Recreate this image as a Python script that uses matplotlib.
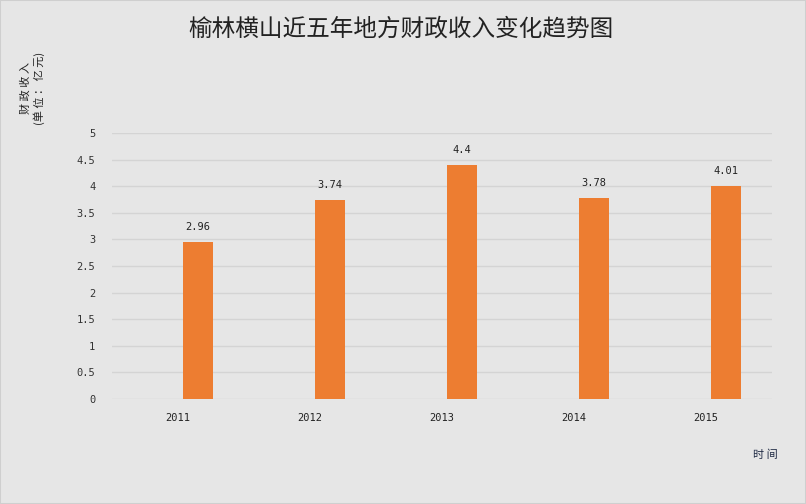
import matplotlib
matplotlib.use("Agg")
import matplotlib.pyplot as plt
from matplotlib.patches import Rectangle

plt.rcParams['font.family'] = ['Noto Sans CJK SC', 'DejaVu Sans']

years = ["2011", "2012", "2013", "2014", "2015"]
revenue = [2.96, 3.74, 4.4, 3.78, 4.01]
yticks = [0, 0.5, 1, 1.5, 2, 2.5, 3, 3.5, 4, 4.5, 5]
title = "榆林横山近五年地方财政收入变化趋势图"
ylabel = "财 政 收 入\n(单 位 ： 亿 元)"
xlabel = "时 间"

W, H = 806, 504
fig = plt.figure(figsize=(W / 100, H / 100), dpi=100)
bg = "#e6e6e6"
fig.patch.set_facecolor(bg)
fig.patches.append(Rectangle((0, 0), 1, 1, transform=fig.transFigure,
                             fill=False, edgecolor="#cfcfcf", linewidth=1.5))

ax = fig.add_axes([112 / W, 105 / H, 660 / W, 266 / H])
ax.set_facecolor(bg)
x = list(range(len(years)))
offset = 20 / 132
width = 30 / 132
xs = [i + offset for i in x]
bars = ax.bar(xs, revenue, width=width, color="#ED7D31", zorder=3)
for xi, v in zip(xs, revenue):
    ax.text(xi, v + 0.18, f"{v:g}", ha="center", va="bottom", fontsize=7.5,
            color="#222222", family=["DejaVu Sans Mono"])
ax.set_xlim(-0.5, len(years) - 0.5)
ax.set_ylim(0, 5)
ax.set_yticks(yticks)
ax.set_yticklabels([f"{t:g}" for t in yticks], family=["DejaVu Sans Mono"], fontsize=7.5, color="#333333")
ax.set_xticks(x)
ax.set_xticklabels(years, family=["DejaVu Sans Mono"], fontsize=7.5, color="#222222")
ax.tick_params(length=0, pad=10)
ax.tick_params(axis='y', pad=12)
ax.grid(axis='y', color="#d4d4d4", linewidth=1, zorder=0)
for s in ax.spines.values():
    s.set_visible(False)

fig.text(401 / W, 1 - 29 / H, title, ha="center", va="center", fontsize=17, color="#222222")
fig.text(33 / W, 1 - 88 / H, ylabel, ha="center", va="center", rotation=90,
         fontsize=8, color="#222222", linespacing=1.25)
fig.text(765 / W, 1 - 455 / H, xlabel, ha="center", va="center", fontsize=8, color="#1f2a44")

fig.savefig("out.png", dpi=100, facecolor=bg)
